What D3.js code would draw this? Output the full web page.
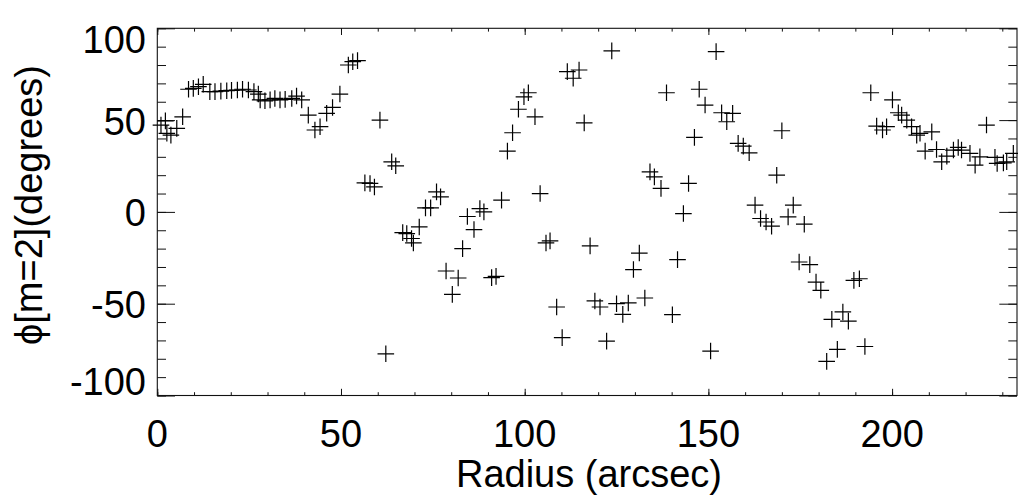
<!DOCTYPE html>
<html><head><meta charset="utf-8">
<script src="https://cdn.jsdelivr.net/npm/d3@7"></script>
<style>
body{margin:0;background:#fff}
text{font-family:"Liberation Sans",Arial,Helvetica,sans-serif;fill:#000}
</style>
</head><body>
<svg id="c" width="1018" height="502"></svg>
<script>
// ---- data ----
const radius = [1.0,2.2,2.6,3.7,5.3,6.9,
8.5,9.8,11.2,12.5,14.3,15.7,17.3,18.9,20.2,21.8,23.2,24.8,26.3,27.5,28.0,29.3,30.7,32.0,33.4,34.8,36.6,37.9,39.3,41.1,42.9,44.3,46.1,47.7,49.7,52.0,53.2,54.5,
56.5,57.9,59.1,60.6,62.2,63.8,64.9,66.8,67.9,69.2,69.7,71.3,73.0,74.4,76.0,77.1,78.6,80.3,81.9,83.1,84.4,86.2,87.8,88.9,91.0,92.2,93.7,95.3,96.7,98.3,99.8,101.0,102.8,104.2,105.8,106.9,108.7,110.2,111.6,113.2,114.8,116.2,117.8,119.1,120.5,122.3,123.7,125.0,126.7,128.2,129.6,131.2,132.7,134.1,135.3,137.1,138.6,140.2,141.6,143.2,144.6,146.2,147.5,149.1,150.6,152.1,153.6,155.0,156.6,158.1,159.5,161.1,162.7,164.2,165.7,167.2,168.6,170.0,171.7,173.1,174.7,176.1,177.6,179.3,180.6,182.2,183.6,185.1,186.6,188.1,189.6,191.1,192.6,194.2,195.8,197.4,198.5,200.1,201.7,202.6,204.0,205.3,206.7,207.6,209.0,210.8,212.1,213.5,214.9,216.7,218.0,218.9,221.2,222.6,223.9,225.7,228.0,228.6,230.3,231.2,233.0];
const phase = [47.3,49.6,42.8,41.8,45.5,51.8,
66.8,67.3,68.2,69.5,65.5,65.5,65.8,66,66.2,66.4,66.8,66.4,65.5,64.2,61,60.5,61,61.8,61,61.3,61.8,63.1,61,52.7,44.6,46.4,53.7,56.9,64.2,80,81.8,82.4,
15.8,15.5,13.6,50,-77.3,27.3,25.1,-11.3,-11.8,-14.5,-16.9,-8.2,2.2,2.2,10.9,8.2,-32.2,-44.9,-36,-20,-2.5,-9.6,1.8,0,-35.8,-35.1,6.4,33.1,43.1,55.9,62.7,64.9,51.8,10,-16.9,-15.8,-51.8,-68.5,76.4,72.8,77.3,48.5,-18.5,-48.5,-51.8,-70.4,87.7,-50,-55.8,-49.6,-31.4,-22.4,-46.9,21.8,19.1,12.8,64.9,-56,-26,-0.9,15.5,40.6,66.8,58.2,-75.8,87.3,54,49.1,53.7,37.3,35.8,32.2,3.7,-3.6,-5.5,-7.8,20,44.2,-2.7,3.7,-27.3,-6.7,-28.7,-38.2,-42.7,-81.4,-58.5,-74.9,-54.5,-59.5,-37.3,-36.4,-73.3,64.9,46.7,44.6,46.4,61,54,52.7,50,46.4,41.8,42.8,33.1,43.6,34,27.3,30.4,33.7,35.1,33.7,31.9,25.5,30,47.3,29.7,26.4,26.7,27.3,31.9];
const xMajorTicks = [0,50,100,150,200];
const xMinorTicks = d3.range(0,235,10);
const yMajorTicks = [-100,-50,0,50,100];
const yMinorTicks = d3.range(-100,101,10);
const xTitle = "Radius (arcsec)";
const yTitle = "\u03D5[m=2](degrees)";

// ---- layout ----
const L = 157.3, R = 1017, T = 28.3, B = 395.5;
const fs = 38;
const svg = d3.select("#c");
const x = d3.scaleLinear().domain([0,234]).range([L,R]);
const y = d3.scaleLinear().domain([-100,100]).range([B,T]);

function styleAxis(g){
  g.select(".domain").remove();
  g.selectAll(".tick line").attr("stroke","#111").attr("stroke-width",1);
  g.selectAll(".tick text").remove();
}
// x axes
svg.append("g").attr("transform",`translate(0,${B})`).call(d3.axisBottom(x).tickValues(xMinorTicks).tickSize(-3.3)).call(styleAxis);
svg.append("g").attr("transform",`translate(0,${B})`).call(d3.axisBottom(x).tickValues(xMajorTicks).tickSize(-6.7)).call(styleAxis);
svg.append("g").attr("transform",`translate(0,${T})`).call(d3.axisTop(x).tickValues(xMinorTicks).tickSize(-3.3)).call(styleAxis);
svg.append("g").attr("transform",`translate(0,${T})`).call(d3.axisTop(x).tickValues(xMajorTicks).tickSize(-6.7)).call(styleAxis);
// y axes
svg.append("g").attr("transform",`translate(${L},0)`).call(d3.axisLeft(y).tickValues(yMinorTicks).tickSize(-8.7)).call(styleAxis);
svg.append("g").attr("transform",`translate(${L},0)`).call(d3.axisLeft(y).tickValues(yMajorTicks).tickSize(-17.7)).call(styleAxis);
svg.append("g").attr("transform",`translate(${R},0)`).call(d3.axisRight(y).tickValues(yMinorTicks).tickSize(-8.7)).call(styleAxis);
svg.append("g").attr("transform",`translate(${R},0)`).call(d3.axisRight(y).tickValues(yMajorTicks).tickSize(-17.7)).call(styleAxis);
// frame
svg.append("rect").attr("x",L).attr("y",T).attr("width",R-L).attr("height",B-T)
  .attr("fill","none").attr("stroke","#111").attr("stroke-width",1.1);

// tick labels
svg.append("g").selectAll("text").data(xMajorTicks).join("text")
  .attr("x",d=>x(d)).attr("y",447).attr("text-anchor","middle").attr("font-size",fs).text(d=>d);
svg.append("g").selectAll("text").data(yMajorTicks).join("text")
  .attr("x",146).attr("y",d=>Math.max(y(100)+24.4, Math.min(y(-100)-0.5, y(d)+14.5)))
  .attr("text-anchor","end").attr("font-size",fs).text(d=>d);

// titles
svg.append("text").attr("x",589).attr("y",487).attr("text-anchor","middle").attr("font-size",fs).text(xTitle);
svg.append("text").attr("transform","translate(42,205) rotate(-90)").attr("text-anchor","middle").attr("font-size",fs).text(yTitle);

// points
const pts = radius.map((r,i)=>({r, p:phase[i]}));
svg.append("g").selectAll("path").data(pts).join("path")
  .attr("transform",d=>`translate(${x(d.r)},${y(d.p)})`)
  .attr("d","M-8.3,0H8.3M0,-8.3V8.3")
  .attr("fill","none").attr("stroke","#000").attr("stroke-width",1.2);
</script>
</body></html>
